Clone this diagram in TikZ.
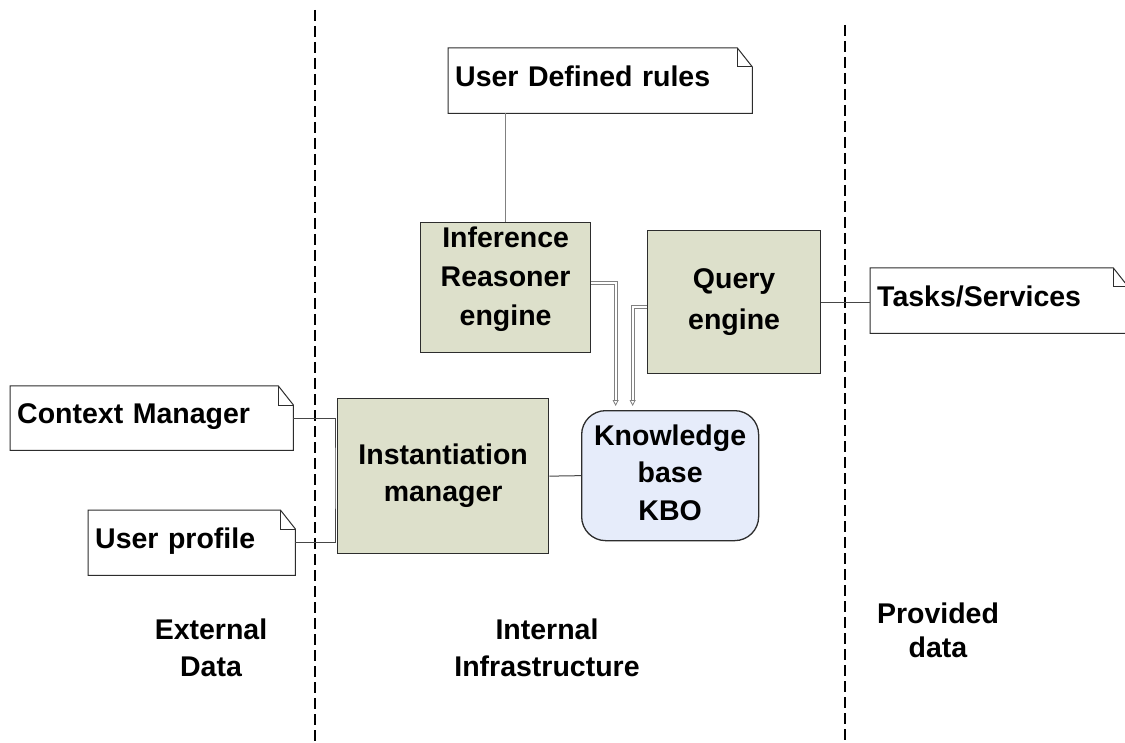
\documentclass[tikz,border=0pt]{standalone}
\usepackage{fontspec}
\setmainfont{Liberation Sans}
\usetikzlibrary{arrows.meta,calc}
\definecolor{boxgreen}{RGB}{221,224,203}
\definecolor{kbblue}{RGB}{230,236,250}
\definecolor{edge}{RGB}{45,45,45}
\definecolor{wire}{RGB}{70,70,70}
\newcommand{\lblfont}[1]{\fontsize{28.5}{#1}\selectfont\bfseries}
\begin{document}
\begin{tikzpicture}[x=1pt,y=-1pt,
  lbl/.style={font=\lblfont{38}, inner sep=0pt, align=center},
  unit/.style={lbl, draw=edge, line width=1.3pt, fill=boxgreen, anchor=north west},
  note/.style={lbl, anchor=north west, minimum height=65pt, align=left,
               text width=#1, inner xsep=7pt, text depth=10pt},
  noteline/.style={draw=edge, line width=1pt},
  wire/.style={draw=wire, line width=1pt},
  dbl/.style={draw=gray, line width=0.8pt, double=white, double distance=2.2pt,
              -{Triangle[open,length=6pt,width=6pt]}, shorten >=4pt},
  zone/.style={line width=2.6pt, dash pattern=on 11pt off 5pt}
]
\useasboundingbox[fill=white] (0,0) rectangle (1125,743);

% zone separators
\coordinate (s1t) at (315,10);
\coordinate (s1b) at (315,743);
\coordinate (s2t) at (845,25);
\coordinate (s2b) at (845,743);
\draw[zone] (s1t) -- (s1b);
\draw[zone] (s2t) -- (s2b);

% processing units
\node[unit, font=\lblfont{39}, text depth=22pt, minimum width=170pt, minimum height=130pt]
  (inf) at (420,222) {Inference\\Reasoner\\engine};
\node[unit, font=\lblfont{41}, minimum width=173pt, minimum height=143pt]
  (qry) at (647,230) {Query\\engine};
\node[unit, font=\lblfont{37}, minimum width=211pt, minimum height=155pt]
  (inst) at (337,398) {Instantiation\\manager};
\node[lbl, font=\lblfont{37.5}, text depth=6pt, draw=edge, line width=1.3pt, fill=kbblue,
      rounded corners=24pt, anchor=north west, minimum width=177pt, minimum height=130pt]
  (kb) at (581,410) {Knowledge\\base\\KBO};

% notes with folded corner
\node[note=290pt] (udr) at (448,48) {User Defined rules};
\node[note=244pt] (tasks) at (870,268) {Tasks/Services};
\node[note=269pt, minimum height=64pt] (ctx) at (10,386) {Context Manager};
\node[note=193pt] (prof) at (88,510) {User profile};
\foreach \n in {udr,tasks,ctx,prof}{
  \draw[noteline] (\n.south west) -- (\n.north west) -- ([xshift=-15pt]\n.north east)
    -- ([yshift=-19pt]\n.north east) -- (\n.south east) -- cycle;
  \draw[noteline] ([xshift=-15pt]\n.north east) |- ([yshift=-19pt]\n.north east);
}

% plain links
\draw[wire, draw=gray] (udr.south -| inf.north) -- (inf.north);
\draw[wire] (qry.east) -- (qry.east -| tasks.west);
\coordinate (junc) at ($(inst.west)+(-2,0)$);
\draw[wire] (ctx.east) -| (junc) |- (prof.east);
\draw[wire] (inst.east) -- (kb.west);

% flows into the knowledge base
\coordinate (kbin1) at ($(kb.north)+(-54.5,0)$);
\coordinate (kbin2) at ($(kb.north)+(-37.5,0)$);
\draw[dbl] ([yshift=5pt]inf.east) -| (kbin1);
\draw[dbl] ([yshift=-4.5pt]qry.west) -| (kbin2);

% zone captions
\node[lbl, font=\lblfont{37}] (ext) at (211,648) {External\\Data};
\node[lbl, font=\lblfont{37}] (int) at (547,648) {Internal\\Infrastructure};
\node[lbl, font=\lblfont{34}] (prov) at (938,630) {Provided\\data};
\end{tikzpicture}
\end{document}
